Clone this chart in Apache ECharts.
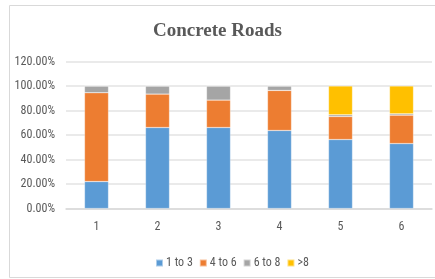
<!DOCTYPE html>
<html>
<head>
<meta charset="utf-8">
<script src="https://cdn.jsdelivr.net/npm/echarts@6/dist/echarts.min.js"></script>
<style>
html, body { margin: 0; padding: 0; background: #fff; }
#chart { width: 435px; height: 279px; }
</style>
</head>
<body>
<div id="chart"></div>
<script>
var categories = ['1', '2', '3', '4', '5', '6'];
var seriesNames = ['1 to 3', '4 to 6', '6 to 8', '>8'];
var oneToThree = [22.0, 66.1, 66.1, 63.7, 56.3, 53.0];
var fourToSix = [72.5, 27.3, 22.4, 32.7, 18.8, 23.2];
var sixToEight = [5.5, 6.6, 11.5, 3.6, 1.4, 1.1];
var overEight = [0, 0, 0, 0, 23.5, 22.7];
var yTicks = [0, 20, 40, 60, 80, 100, 120];

var colors = ['#5B9BD5', '#ED7D31', '#A5A5A5', '#FFC000'];
var labelFont = '"Liberation Sans Narrow", "Roboto Condensed", "Liberation Sans", sans-serif';

function bar(name, data) {
    return {
        name: name,
        type: 'bar',
        stack: 'total',
        barWidth: 24,
        data: data,
        itemStyle: { borderColor: 'rgba(255,255,255,0.5)', borderWidth: 0.5 }
    };
}

var chart = echarts.init(document.getElementById('chart'));
chart.setOption({
    animation: false,
    color: colors,
    title: {
        text: 'Concrete Roads',
        left: 'center',
        top: 17,
        textStyle: {
            fontFamily: '"Liberation Serif", "Times New Roman", serif',
            fontWeight: 'bold',
            fontSize: 19,
            color: '#595959'
        }
    },
    graphic: [{
        type: 'rect',
        shape: { x: 9.5, y: 5.5, width: 440, height: 272 },
        style: { fill: 'none', stroke: '#D9D9D9', lineWidth: 1 },
        silent: true
    }],
    legend: {
        data: seriesNames,
        left: 150,
        top: 252,
        itemWidth: 7,
        itemHeight: 7,
        itemGap: 6,
        icon: 'rect',
        textStyle: { fontFamily: labelFont, fontSize: 12, color: '#595959', padding: [0, 0, 0, -2] }
    },
    grid: { left: 66, right: 3, top: 61.5, bottom: 70.5 },
    xAxis: {
        type: 'category',
        data: categories,
        axisLine: { lineStyle: { color: '#D9D9D9', width: 1.5 } },
        axisTick: { show: false },
        axisLabel: { margin: 12, fontFamily: labelFont, fontSize: 12, color: '#595959' }
    },
    yAxis: {
        type: 'value',
        min: yTicks[0],
        max: yTicks[yTicks.length - 1],
        interval: 20,
        axisLine: { show: false },
        axisTick: { show: false },
        splitLine: { lineStyle: { color: '#E3E3E3', width: 1.5 } },
        axisLabel: {
            margin: 11,
            fontFamily: labelFont,
            fontSize: 12,
            color: '#595959',
            formatter: function (v) { return v.toFixed(2) + '%'; }
        }
    },
    series: [
        bar(seriesNames[0], oneToThree),
        bar(seriesNames[1], fourToSix),
        bar(seriesNames[2], sixToEight),
        bar(seriesNames[3], overEight)
    ]
});
window.addEventListener('resize', chart.resize);
</script>
</body>
</html>
